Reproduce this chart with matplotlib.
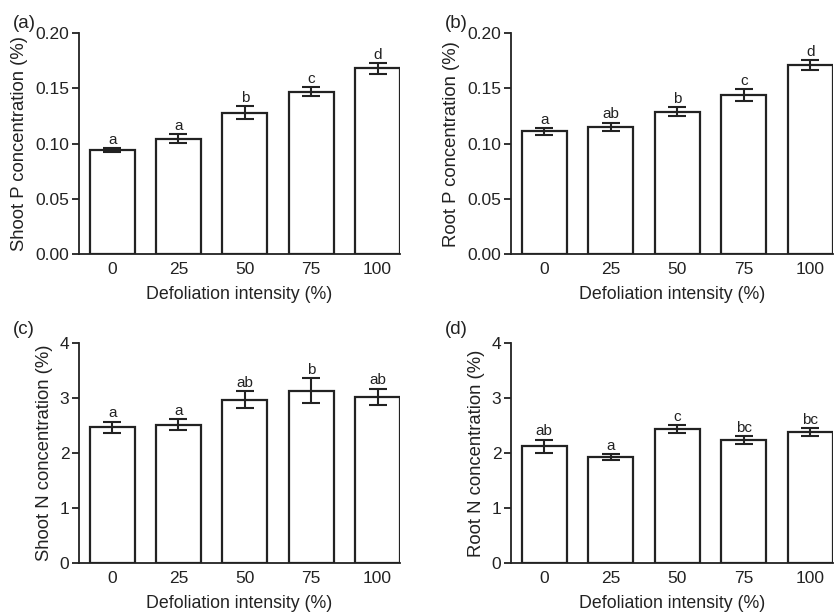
import matplotlib
matplotlib.use('Agg')
import matplotlib.pyplot as plt

plt.rcParams['font.family'] = ['Liberation Sans', 'DejaVu Sans']

intensity = ['0', '25', '50', '75', '100']

shoot_p = [0.094, 0.1045, 0.128, 0.147, 0.168]
shoot_p_err = [0.0018, 0.0038, 0.006, 0.0038, 0.005]
shoot_p_letters = ['a', 'a', 'b', 'c', 'd']

root_p = [0.111, 0.115, 0.129, 0.144, 0.171]
root_p_err = [0.003, 0.0038, 0.004, 0.0053, 0.0042]
root_p_letters = ['a', 'ab', 'b', 'c', 'd']

shoot_n = [2.47, 2.51, 2.97, 3.13, 3.02]
shoot_n_err = [0.10, 0.10, 0.16, 0.23, 0.15]
shoot_n_letters = ['a', 'a', 'ab', 'b', 'ab']

root_n = [2.12, 1.93, 2.43, 2.24, 2.38]
root_n_err = [0.12, 0.05, 0.07, 0.07, 0.075]
root_n_letters = ['ab', 'a', 'c', 'bc', 'bc']

ink = '#222222'
fig = plt.figure(figsize=(8.34, 6.13), dpi=100)

panels = [
    ([0.0947, 0.5856, 0.385, 0.3604], shoot_p, shoot_p_err, shoot_p_letters,
     'Shoot P concentration (%)', (0, 0.20), [0, 0.05, 0.10, 0.15, 0.20], '{:.2f}', '(a)', 1.045),
    ([0.6127, 0.5856, 0.386, 0.3604], root_p, root_p_err, root_p_letters,
     'Root P concentration (%)', (0, 0.20), [0, 0.05, 0.10, 0.15, 0.20], '{:.2f}', '(b)', 1.045),
    ([0.0947, 0.0816, 0.385, 0.3589], shoot_n, shoot_n_err, shoot_n_letters,
     'Shoot N concentration (%)', (0, 4), [0, 1, 2, 3, 4], '{:.0f}', '(c)', 1.06),
    ([0.6127, 0.0816, 0.386, 0.3589], root_n, root_n_err, root_n_letters,
     'Root N concentration (%)', (0, 4), [0, 1, 2, 3, 4], '{:.0f}', '(d)', 1.06),
]

for rect, vals, errs, letters, ylab, ylim, yticks, fmt, tag, tag_y in panels:
    ax = fig.add_axes(rect)
    x = range(len(vals))
    ax.bar(x, vals, width=0.68, color='white', edgecolor=ink, linewidth=1.6, zorder=2)
    ax.errorbar(x, vals, yerr=errs, fmt='none', ecolor=ink, elinewidth=1.5,
                capsize=6.5, capthick=1.5, zorder=3)
    off = (ylim[1] - ylim[0]) * 0.006
    for i, (v, e, lab) in enumerate(zip(vals, errs, letters)):
        ax.text(i, v + e + off, lab, ha='center', va='bottom', fontsize=11, color=ink)
    ax.set_xlim(-0.5, 4.34)
    ax.set_ylim(*ylim)
    ax.set_yticks(yticks)
    ax.set_yticklabels([fmt.format(t) for t in yticks])
    ax.set_xticks(list(x))
    ax.set_xticklabels(intensity)
    ax.tick_params(axis='x', length=0, pad=6, labelsize=12.5, colors=ink)
    ax.tick_params(axis='y', length=5, width=1.3, direction='out', pad=2,
                   labelsize=12.5, colors=ink)
    for s in ['top', 'right']:
        ax.spines[s].set_visible(False)
    for s in ['left', 'bottom']:
        ax.spines[s].set_linewidth(1.3)
        ax.spines[s].set_color(ink)
    ax.set_xlabel('Defoliation intensity (%)', fontsize=12.8, color=ink, labelpad=6)
    ax.set_ylabel(ylab, fontsize=13.3, color=ink, labelpad=5)
    ax.text(-0.205, tag_y, tag, transform=ax.transAxes, fontsize=13.5, color=ink,
            ha='left', va='center')

fig.savefig('out.png', dpi=100)
